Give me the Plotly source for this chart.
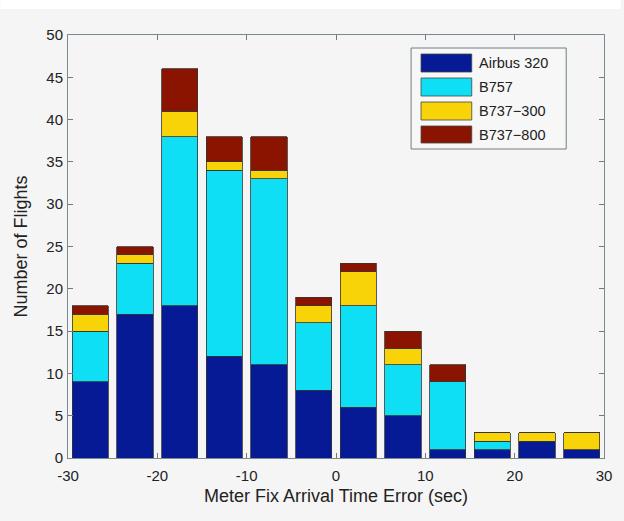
import plotly.graph_objects as go

bin_centers = [-27.5, -22.5, -17.5, -12.5, -7.5, -2.5, 2.5, 7.5, 12.5, 17.5, 22.5, 27.5]
airbus_320 = [9, 17, 18, 12, 11, 8, 6, 5, 1, 1, 2, 1]
b757 = [6, 6, 20, 22, 22, 8, 12, 6, 8, 1, 0, 0]
b737_300 = [2, 1, 3, 1, 1, 2, 4, 2, 0, 1, 1, 2]
b737_800 = [1, 1, 5, 3, 4, 1, 1, 2, 2, 0, 0, 0]

series_names = ["Airbus 320", "B757", "B737\u2212300", "B737\u2212800"]
series_values = [airbus_320, b757, b737_300, b737_800]
colors = ["#071A96", "#0EDFF5", "#F7D308", "#8A1400"]
xticks = [-30, -20, -10, 0, 10, 20, 30]
xticklabels = ["-30", "-20", "-10", "0", "10", "20", "30"]
yticks = [0, 5, 10, 15, 20, 25, 30, 35, 40, 45, 50]

fig = go.Figure()
for name, vals, col in zip(series_names, series_values, colors):
    fig.add_trace(go.Bar(
        x=bin_centers, y=vals, name=name,
        marker=dict(color=col, line=dict(color="#333333", width=0.8)),
        showlegend=False,
    ))

W, H = 624, 521
L, R, T, B = 68, 17, 35, 63
pw, ph = W - L - R, H - T - B

def px(x):
    return (x - L) / pw

def py(y):
    return (H - B - y) / ph

shapes = []
annotations = []
# white strip at the very top of the page
shapes.append(dict(type="rect", xref="paper", yref="paper",
                   x0=px(0), x1=px(W), y0=py(9), y1=py(0),
                   line=dict(width=0), fillcolor="#FFFFFF", layer="below"))
# legend box
shapes.append(dict(type="rect", xref="paper", yref="paper",
                   x0=px(413), x1=px(569), y0=py(149), y1=py(48),
                   line=dict(color="#6f7f85", width=1), fillcolor="#F7F7F7", layer="above"))
rows = [(54, 72), (78, 96), (102, 120), (126, 143)]
for (y0, y1), name, col in zip(rows, series_names, colors):
    shapes.append(dict(type="rect", xref="paper", yref="paper",
                       x0=px(423), x1=px(474), y0=py(y1), y1=py(y0),
                       line=dict(color="#444444", width=0.8), fillcolor=col, layer="above"))
    annotations.append(dict(xref="paper", yref="paper", x=px(479), y=py((y0 + y1) / 2),
                            text=name, showarrow=False, xanchor="left", yanchor="middle",
                            font=dict(size=14.5, color="#222222", family="Liberation Sans, Arial")))

fig.update_layout(
    width=W, height=H,
    margin=dict(l=L, r=R, t=T, b=B),
    paper_bgcolor="#F5F5F5", plot_bgcolor="#F5F5F5",
    barmode="stack", bargap=0.19,
    font=dict(family="Liberation Sans, Arial", color="#222222", size=15),
    shapes=shapes, annotations=annotations,
    xaxis=dict(range=[-30, 30], tickvals=xticks, ticktext=xticklabels, ticks="inside", ticklen=5,
               tickcolor="#777777", showline=True, linecolor="#7a8a90", linewidth=1,
               mirror="ticks", showgrid=False, zeroline=False,
               tickfont=dict(size=15), ticklabelstandoff=4,
               title=dict(text="Meter Fix Arrival Time Error (sec)", font=dict(size=18), standoff=6)),
    yaxis=dict(range=[0, 50], tickvals=yticks, ticks="inside", ticklen=5,
               tickcolor="#777777", showline=True, linecolor="#7a8a90", linewidth=1,
               mirror="ticks", showgrid=False, zeroline=False,
               tickfont=dict(size=15), ticklabelstandoff=1,
               title=dict(text="Number of Flights", font=dict(size=18), standoff=14)),
)

fig.write_html("out.html")
